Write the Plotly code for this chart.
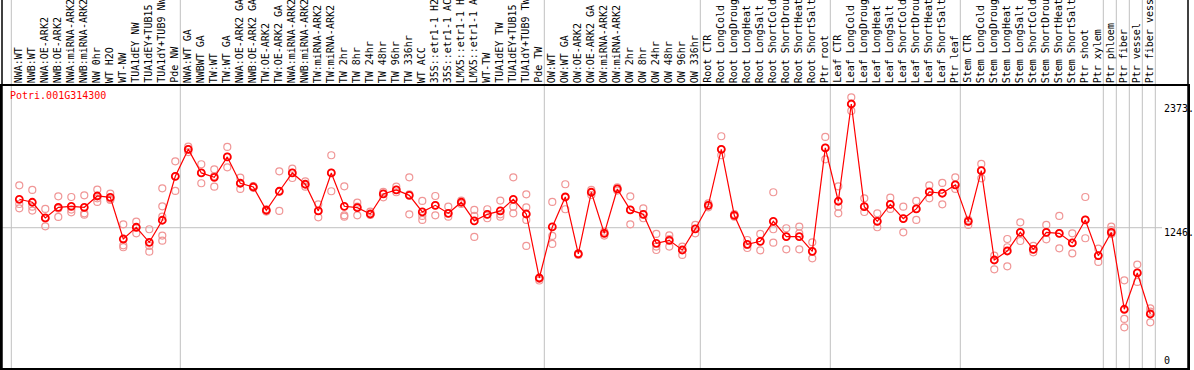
import plotly.graph_objects as go

title = "Potri.001G314300"

categories = [
    "NWA:WT", "NWB:WT", "NWA:OE-ARK2", "NWB:OE-ARK2", "NWA:miRNA-ARK2", "NWB:miRNA-ARK2",
    "NW 0hr", "WT H2O", "WT-NW", "TUA1dEY NW", "TUA1dEY+TUB15 NW", "TUA1dY+TUB9 NW", "Pde NW",
    "NWA:WT GA", "NWBWT GA", "TW:WT", "TW:WT GA", "NWA:OE-ARK2 GA", "NWB:OE-ARK2 GA",
    "TW:OE-ARK2", "TW:OE-ARK2 GA", "NWA:miRNA-ARK2 GA", "NWB:miRNA-ARK2 GA", "TW:miRNA-ARK2",
    "TW:miRNA-ARK2", "TW 2hr", "TW 8hr", "TW 24hr", "TW 48hr", "TW 96hr", "TW 336hr", "WT ACC",
    "35S::etr1-1 H2O", "35S::etr1-1 ACC", "LMX5::etr1-1 H2O", "LMX5::etr1-1 ACC", "WT-TW",
    "TUA1dEY TW", "TUA1dEY+TUB15 TW", "TUA1dY+TUB9 TW", "Pde TW",
    "OW:WT", "OW:WT GA", "OW:OE-ARK2", "OW:OE-ARK2 GA", "OW:miRNA-ARK2", "OW:miRNA-ARK2",
    "OW 2hr", "OW 8hr", "OW 24hr", "OW 48hr", "OW 96hr", "OW 336hr",
    "Root CTR", "Root LongCold", "Root LongDrought", "Root LongHeat", "Root LongSalt",
    "Root ShortCold", "Root ShortDrought", "Root ShortHeat", "Root ShortSalt", "Ptr root",
    "Leaf CTR", "Leaf LongCold", "Leaf LongDrought", "Leaf LongHeat", "Leaf LongSalt",
    "Leaf ShortCold", "Leaf ShortDrought", "Leaf ShortHeat", "Leaf ShortSalt", "Ptr leaf",
    "Stem CTR", "Stem LongCold", "Stem LongDrought", "Stem LongHeat", "Stem LongSalt",
    "Stem ShortCold", "Stem ShortDrought", "Stem ShortHeat", "Stem ShortSalt", "Ptr shoot",
    "Ptr xylem", "Ptr phloem", "Ptr fiber", "Ptr vessel", "Ptr fiber vessel",
]

means = [
    1505, 1478, 1335, 1432, 1441, 1432, 1535, 1523, 1143, 1250, 1113, 1314, 1714,
    1960, 1745, 1705, 1891, 1651, 1617, 1405, 1578, 1745, 1642, 1399, 1745, 1441, 1429,
    1371, 1554, 1590, 1541, 1390, 1450, 1377, 1478, 1308, 1368, 1399, 1505, 1371, 788,
    1253, 1526, 1007, 1569, 1195, 1599, 1408, 1368, 1104, 1131, 1043, 1235,
    1450, 1960, 1359, 1095, 1122, 1304, 1165, 1165, 1031, 1973,
    1487, 2373, 1438, 1304, 1459, 1329, 1417, 1572, 1560, 1636,
    1304, 1766, 952, 1034, 1204, 1049, 1204, 1195, 1107, 1317, 992,
    1204, 503, 834, 460,
]

replicates = [
    [1632, 1462, 1423], [1590, 1438, 1402], [1417, 1329, 1259], [1532, 1420, 1344],
    [1526, 1411, 1386], [1541, 1377, 1365], [1593, 1514, 1481], [1556, 1508, 1499],
    [1277, 1086, 1068], [1301, 1250, 1195], [1232, 1080, 1028], [1605, 1441, 1347, 1174, 1128],
    [1851, 1714, 1581],
    [1985, 1960, 1935], [1824, 1745, 1651], [1778, 1717, 1620], [1982, 1891, 1796],
    [1702, 1651, 1599], [1626, 1617, 1611], [1414, 1402, 1393], [1760, 1578, 1399],
    [1784, 1745, 1699], [1669, 1642, 1620], [1459, 1399, 1341], [1906, 1745, 1578],
    [1623, 1359, 1347], [1474, 1438, 1359], [1393, 1371, 1362], [1572, 1554, 1523],
    [1620, 1590, 1569], [1705, 1550, 1368], [1490, 1353, 1317], [1535, 1450, 1359],
    [1438, 1377, 1347], [1493, 1478, 1462], [1408, 1353, 1162], [1414, 1368, 1332],
    [1493, 1368, 1347], [1705, 1438, 1377], [1550, 1432, 1317, 1080], [790, 780, 765],
    [1481, 1171, 1098], [1642, 1526, 1414], [1013, 1007, 998], [1590, 1569, 1544],
    [1210, 1195, 1174], [1614, 1599, 1584], [1532, 1408, 1277], [1423, 1368, 1332],
    [1189, 1074, 1043], [1177, 1143, 1074], [1074, 1043, 998], [1271, 1235, 1195],
    [1468, 1450, 1432], [2079, 1960, 1906], [1371, 1359, 1347], [1134, 1089, 1061],
    [1189, 1122, 1040], [1569, 1232, 1110], [1241, 1165, 1049], [1256, 1195, 1049],
    [1113, 1031, 967], [2073, 1973, 1869],
    [1623, 1438, 1377], [2434, 2373, 2310], [1514, 1438, 1389], [1377, 1304, 1250],
    [1520, 1459, 1417], [1438, 1329, 1204], [1490, 1417, 1317], [1632, 1572, 1514],
    [1654, 1560, 1459], [1705, 1636, 1599],
    [1317, 1304, 1271], [1827, 1766, 1696], [992, 952, 867], [1143, 1068, 894],
    [1295, 1204, 1125], [1080, 1049, 1022], [1271, 1204, 1140], [1353, 1195, 1058],
    [1195, 1107, 1013], [1526, 1317, 1150], [1055, 992, 934],
    [1256, 1225, 1189], [767, 415, 339], [910, 834, 752], [512, 481, 384],
]

# first category index of each block (plus end)
group_starts = [0, 13, 41, 53, 63, 73, 84, 85, 86, 87, 88]
axis_ticks = [2373, 1246, 0]

RED = "#ff0000"
PINK = "rgb(240,150,150)"
FONT = "DejaVu Sans Mono"

W, H = 1194, 370
ML, MR, MT, MB = 2, 6, 86, 2
XMIN, XMAX = -1.331, 89.9
YMIN, YMAX = -32, 2537

xs = list(range(len(categories)))
rx, ry = [], []
for i, reps in enumerate(replicates):
    for v in reps:
        rx.append(i)
        ry.append(v)

fig = go.Figure()
fig.add_trace(go.Scatter(
    x=rx, y=ry, mode="markers",
    marker=dict(symbol="circle-open", size=7, color=PINK, line=dict(width=1.2, color=PINK)),
    hoverinfo="skip", showlegend=False,
))
fig.add_trace(go.Scatter(
    x=xs, y=means, mode="lines+markers", text=categories,
    line=dict(color=RED, width=1.2),
    marker=dict(symbol="circle-open", size=7, color=RED, line=dict(width=1.8, color=RED)),
    showlegend=False,
))

plot_h = H - MT - MB
top_paper = 1 + MT / plot_h

shapes = []
for g in group_starts:
    shapes.append(dict(type="line", xref="x", yref="paper", x0=g - 0.615, x1=g - 0.615,
                       y0=0, y1=top_paper, line=dict(color="#c0c0c0", width=1), layer="below"))
shapes.append(dict(type="line", xref="x", yref="y", x0=XMIN, x1=87.9, y0=axis_ticks[1], y1=axis_ticks[1],
                   line=dict(color="#c0c0c0", width=1), layer="below"))
for xp in (0, 1):
    shapes.append(dict(type="line", xref="paper", yref="paper", x0=xp, x1=xp, y0=0, y1=top_paper,
                       line=dict(color="black", width=1.5)))

annotations = []
for i, c in enumerate(categories):
    annotations.append(dict(
        x=i, y=1, xref="x", yref="paper", text=c, showarrow=False, textangle=-90,
        xanchor="center", yanchor="bottom", yshift=2, xshift=-1, borderpad=0,
        font=dict(family=FONT, size=10, color="black"),
    ))
annotations.append(dict(
    x=0.006, y=1, xref="paper", yref="paper", text=title, showarrow=False,
    xanchor="left", yanchor="top", yshift=-3, borderpad=0,
    font=dict(family=FONT, size=10, color=RED),
))
label_x = (1163 - ML) / (W - ML - MR)
shifts = {2373: -4, 1246: -5, 0: 4}
for t in axis_ticks:
    annotations.append(dict(
        x=label_x, y=t, xref="paper", yref="y", text=f"{t}." if t else "0", showarrow=False,
        xanchor="left", yanchor="middle", yshift=shifts[t], borderpad=0,
        font=dict(family=FONT, size=10, color="black"),
    ))

fig.update_layout(
    width=W, height=H,
    margin=dict(l=ML, r=MR, t=MT, b=MB, pad=0),
    paper_bgcolor="white", plot_bgcolor="white",
    xaxis=dict(range=[XMIN, XMAX], showgrid=False, zeroline=False, showticklabels=False,
               ticks="", showline=True, linecolor="black", linewidth=1.5, mirror=True),
    yaxis=dict(range=[YMIN, YMAX], showgrid=False, zeroline=False, showticklabels=False,
               ticks="", showline=True, linecolor="black", linewidth=1.5, mirror=True),
    shapes=shapes, annotations=annotations,
    hovermode="closest",
)

fig.write_html(
    "out.html",
    config={"displayModeBar": False},
    post_script="document.body.style.margin='0';document.body.style.padding='0';",
)
